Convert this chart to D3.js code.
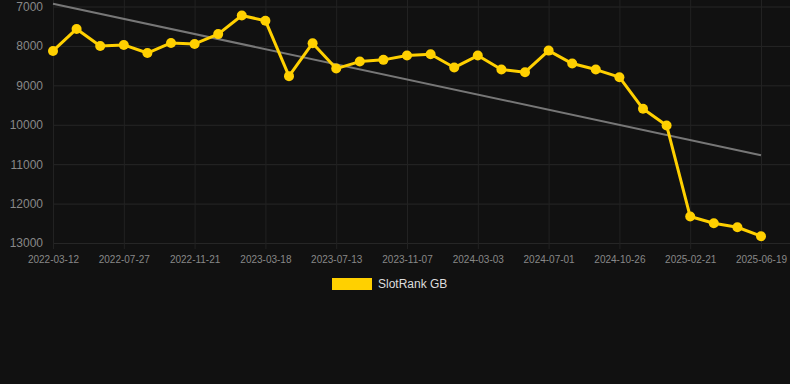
<!DOCTYPE html>
<html>
<head>
<meta charset="utf-8">
<script src="https://cdn.jsdelivr.net/npm/d3@7"></script>
<style>
    body { margin: 0; background: #111111; }
    svg { display: block; font-family: "Liberation Sans", Arial, sans-serif; }
</style>
</head>
<body>
<script>
// categories (dates), only every 3rd one is labelled on the axis
var dates = [
    "2022-03-12", "2022-04-27", "2022-06-11",
    "2022-07-27", "2022-09-04", "2022-10-13",
    "2022-11-21", "2022-12-30", "2023-02-07",
    "2023-03-18", "2023-04-26", "2023-06-04",
    "2023-07-13", "2023-08-21", "2023-09-29",
    "2023-11-07", "2023-12-16", "2024-01-24",
    "2024-03-03", "2024-04-12", "2024-05-22",
    "2024-07-01", "2024-08-09", "2024-09-17",
    "2024-10-26", "2024-12-04", "2025-01-12",
    "2025-02-21", "2025-04-01", "2025-05-10",
    "2025-06-19"
];
var rankGB = [
    8127, 7570, 8000, 7975, 8180, 7924, 7950, 7700, 7228, 7360,
    8767, 7932, 8575, 8397, 8354, 8245, 8210, 8549, 8245, 8600,
    8667, 8119, 8448, 8600, 8793, 9595, 10017, 12329, 12498, 12600,
    12828
];
var yTicks = [7000, 8000, 9000, 10000, 11000, 12000, 13000];
var seriesName = "SlotRank GB";

var width = 790, height = 384;

var svg = d3.select("body").append("svg")
    .attr("width", width)
    .attr("height", height);

svg.append("rect")
    .attr("width", width)
    .attr("height", height)
    .attr("fill", "#111111");

var x = d3.scalePoint()
    .domain(dates)
    .range([53, 761]);

var y = d3.scaleLinear()
    .domain([7000, 13000])
    .range([6.5, 243]);

var xLabels = dates.filter(function(d, i) { return i % 3 == 0; });

// horizontal grid + y labels
var yAxis = d3.axisLeft(y)
    .tickValues(yTicks)
    .tickSize(-(width - 53))
    .tickPadding(10)
    .tickFormat(d3.format("d"));

var gy = svg.append("g")
    .attr("transform", "translate(53,0)")
    .call(yAxis);
gy.select(".domain").remove();
gy.selectAll("line").attr("stroke", "#262626");
gy.selectAll("text")
    .attr("fill", "#888888")
    .attr("font-size", 12);

// vertical grid + x labels
var xAxis = d3.axisBottom(x)
    .tickValues(xLabels)
    .tickSize(-(243 - 6.5) - 0)
    .tickPadding(10);

var gx = svg.append("g")
    .attr("transform", "translate(0,249)")
    .call(xAxis);
gx.select(".domain").remove();
gx.selectAll("line")
    .attr("stroke", "#222222")
    .attr("y1", 0)
    .attr("y2", -249);
gx.selectAll("text")
    .attr("fill", "#888888")
    .attr("font-size", 10)
    .attr("dy", "0.35em")
    .attr("y", 10);

// trend line (least squares over the series)
var n = rankGB.length;
var xMean = d3.mean(rankGB, function(d, i) { return i; });
var yMean = d3.mean(rankGB);
var num = d3.sum(rankGB, function(d, i) { return (i - xMean) * (d - yMean); });
var den = d3.sum(rankGB, function(d, i) { return (i - xMean) * (i - xMean); });
var slope = num / den;
var intercept = yMean - slope * xMean;

svg.append("line")
    .attr("x1", x(dates[0]))
    .attr("y1", y(intercept))
    .attr("x2", x(dates[n - 1]))
    .attr("y2", y(intercept + slope * (n - 1)))
    .attr("stroke", "#777777")
    .attr("stroke-width", 2);

// series line
var line = d3.line()
    .x(function(d, i) { return x(dates[i]); })
    .y(function(d) { return y(d); });

svg.append("path")
    .datum(rankGB)
    .attr("d", line)
    .attr("fill", "none")
    .attr("stroke", "#FFD000")
    .attr("stroke-width", 3)
    .attr("stroke-linejoin", "round");

svg.selectAll(".dot")
    .data(rankGB)
    .enter().append("circle")
    .attr("class", "dot")
    .attr("cx", function(d, i) { return x(dates[i]); })
    .attr("cy", function(d) { return y(d); })
    .attr("r", 5)
    .attr("fill", "#FFD000");

// legend
var legend = svg.append("g")
    .attr("transform", "translate(332,278)");
legend.append("rect")
    .attr("width", 40)
    .attr("height", 12)
    .attr("fill", "#FFD000");
legend.append("text")
    .attr("x", 46)
    .attr("y", 6)
    .attr("dy", "0.35em")
    .attr("fill", "#dddddd")
    .attr("font-size", 12)
    .text(seriesName);
</script>
</body>
</html>
